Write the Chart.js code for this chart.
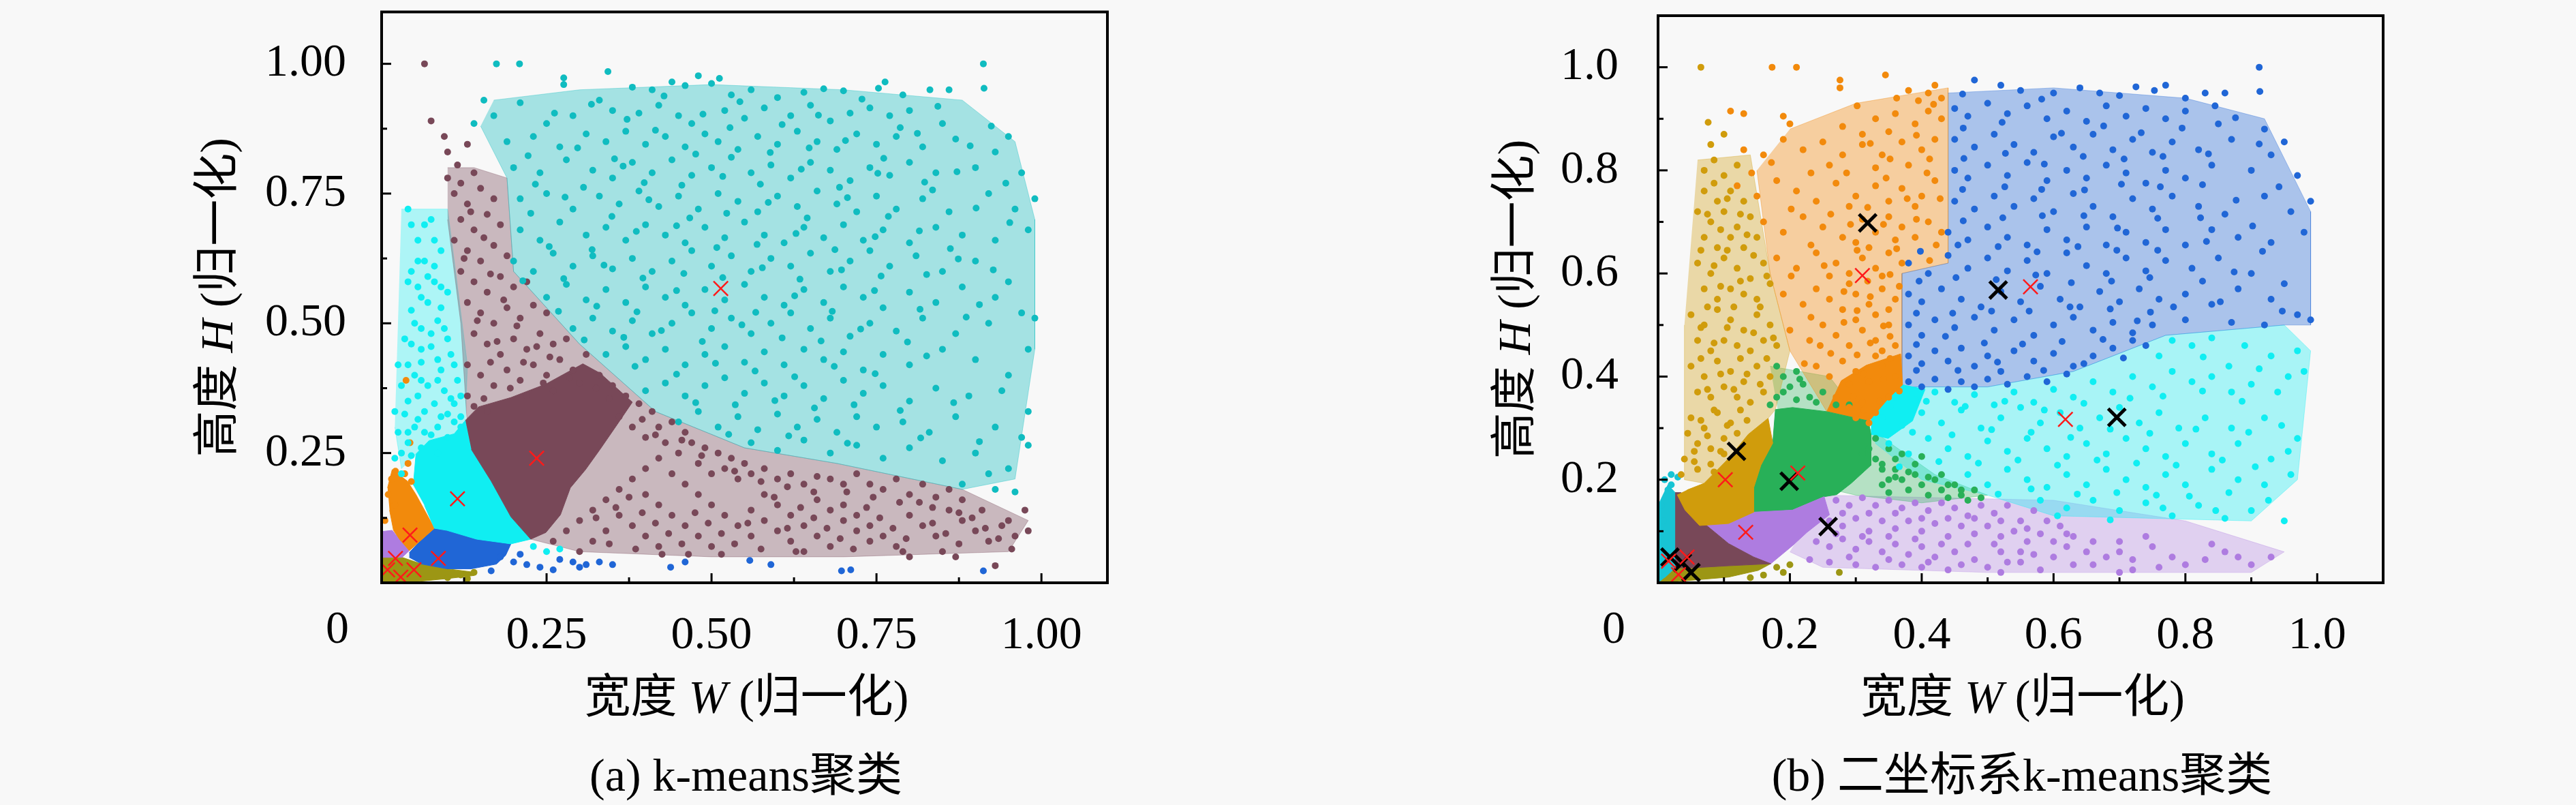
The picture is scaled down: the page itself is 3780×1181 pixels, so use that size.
<!DOCTYPE html>
<html>
<head>
<meta charset="utf-8">
<script src="https://cdn.jsdelivr.net/npm/chart.js@4.4.0/dist/chart.umd.min.js"></script>
<style>
  html, body { margin: 0; padding: 0; background: #f8f8f8; }
  #wrap { position: relative; width: 3780px; height: 1181px; overflow: hidden; }
  canvas { position: absolute; top: 0; }
</style>
</head>
<body>
<div id="wrap">
  <canvas id="chartA" width="1890" height="1181" style="left:0;width:1890px;height:1181px"></canvas>
  <canvas id="chartB" width="1890" height="1181" style="left:1890px;width:1890px;height:1181px"></canvas>
</div>
<script>
// ---------- ticks ----------
var ticksA = [0.125, 0.25, 0.375, 0.5, 0.625, 0.75, 0.875, 1.0];
var tickLabelsA = ['', '0.25', '', '0.50', '', '0.75', '', '1.00'];
var ticksB = [0.1, 0.2, 0.3, 0.4, 0.5, 0.6, 0.7, 0.8, 0.9, 1.0];
var tickLabelsB = ['', '0.2', '', '0.4', '', '0.6', '', '0.8', '', '1.0'];
var originLabel = '0';

// ---------- (a) k-means: scattered points ----------
var tealA = [[.174,1],[.209,1],[.343,.985],[.48,.977],[.512,.972],[.912,1],[.276,.973],[.276,.96],
  [.41,.95],[.44,.965],[.46,.958],[.50,.962],[.53,.94],[.56,.95],[.60,.935],[.64,.945],[.67,.952],[.70,.948],[.753,.953],[.763,.965],[.79,.94],[.831,.95],[.86,.95],[.913,.953],[.155,.93],[.21,.925],[.33,.93],[.38,.955],
  [.14,.885],[.17,.9],[.25,.885],[.29,.9],[.35,.91],[.39,.905],[.42,.92],[.45,.9],[.47,.885],[.52,.91],[.55,.895],[.58,.915],[.62,.9],[.65,.92],[.68,.89],[.71,.905],[.74,.915],[.77,.9],[.80,.91],[.85,.885],[.924,.88],[.95,.86],
  [.19,.85],[.23,.86],[.27,.84],[.31,.865],[.34,.85],[.37,.87],[.40,.845],[.43,.86],[.46,.84],[.49,.865],[.51,.85],[.54,.835],[.57,.86],[.60,.845],[.63,.87],[.66,.85],[.69,.835],[.72,.865],[.75,.845],[.78,.86],[.82,.84],[.87,.855],[.93,.83],
  [.20,.80],[.24,.79],[.28,.815],[.32,.795],[.35,.78],[.38,.81],[.41,.79],[.44,.815],[.47,.785],[.50,.80],[.53,.82],[.56,.79],[.59,.805],[.62,.78],[.65,.81],[.68,.795],[.71,.775],[.74,.80],[.77,.785],[.80,.81],[.84,.79],[.90,.80],[.97,.79],[.99,.74],
  [.21,.74],[.25,.75],[.29,.72],[.33,.745],[.36,.73],[.39,.755],[.42,.725],[.45,.745],[.48,.72],[.51,.75],[.54,.735],[.57,.715],[.60,.745],[.63,.725],[.66,.755],[.69,.73],[.72,.715],[.75,.745],[.78,.72],[.82,.74],[.86,.715],[.92,.75],[.96,.72],
  [.21,.68],[.24,.66],[.27,.695],[.31,.67],[.34,.685],[.37,.66],[.40,.69],[.43,.67],[.46,.655],[.49,.685],[.52,.665],[.55,.695],[.58,.67],[.61,.655],[.64,.685],[.67,.665],[.70,.69],[.73,.66],[.76,.68],[.80,.655],[.84,.685],[.88,.67],[.93,.66],[.98,.68],
  [.20,.62],[.23,.60],[.26,.635],[.29,.61],[.32,.63],[.35,.605],[.38,.625],[.41,.60],[.44,.62],[.47,.64],[.50,.61],[.53,.63],[.56,.60],[.59,.625],[.62,.61],[.65,.635],[.68,.60],[.71,.62],[.74,.64],[.77,.61],[.81,.63],[.85,.60],[.90,.62],[.95,.58],[.99,.51],
  [.25,.55],[.28,.575],[.31,.545],[.34,.565],[.37,.54],[.40,.57],[.43,.55],[.46,.535],[.49,.565],[.52,.545],[.55,.575],[.58,.55],[.61,.535],[.64,.565],[.67,.54],[.70,.57],[.73,.55],[.76,.53],[.80,.56],[.84,.54],[.88,.57],[.93,.55],[.97,.52],
  [.29,.49],[.32,.51],[.35,.485],[.38,.505],[.41,.48],[.44,.50],[.47,.52],[.50,.49],[.53,.51],[.56,.48],[.59,.50],[.62,.52],[.65,.49],[.68,.51],[.71,.475],[.74,.50],[.78,.485],[.82,.51],[.87,.48],[.92,.50],[.98,.45],
  [.34,.44],[.37,.455],[.40,.43],[.43,.45],[.46,.42],[.49,.44],[.52,.455],[.55,.425],[.58,.445],[.61,.42],[.64,.45],[.67,.43],[.70,.445],[.73,.41],[.76,.44],[.80,.42],[.85,.45],[.90,.43],[.95,.40],
  [.40,.37],[.43,.385],[.46,.36],[.49,.38],[.52,.395],[.55,.365],[.58,.385],[.61,.36],[.64,.38],[.67,.355],[.70,.39],[.73,.365],[.76,.38],[.80,.35],[.84,.375],[.89,.36],[.94,.37],[.98,.33],
  [.45,.31],[.48,.33],[.51,.30],[.54,.32],[.57,.295],[.60,.325],[.63,.30],[.66,.315],[.69,.29],[.72,.32],[.75,.30],[.79,.31],[.83,.29],[.87,.32],[.93,.30],[.97,.28],
  [.56,.27],[.60,.255],[.64,.275],[.68,.25],[.72,.265],[.76,.24],[.80,.26],[.85,.235],[.90,.25],[.95,.22],[.98,.265],[.92,.21],[.88,.19],[.93,.18],[.96,.175],
  [.262,.905],[.318,.922],[.372,.893],[.428,.938],[.487,.903],[.543,.927],[.607,.883],[.662,.901],[.728,.932],[.786,.877],[.843,.918],
  [.222,.823],[.297,.838],[.353,.817],[.415,.872],[.476,.826],[.528,.877],[.589,.829],[.648,.838],[.703,.852],[.761,.818],[.812,.866],[.892,.842],
  [.233,.768],[.306,.762],[.366,.803],[.398,.771],[.455,.766],[.517,.783],[.574,.768],[.636,.797],[.694,.762],[.752,.789],[.823,.772],[.872,.792],[.946,.77],
  [.226,.712],[.278,.743],[.349,.706],[.405,.738],[.467,.703],[.523,.712],[.586,.733],[.645,.703],[.706,.742],[.768,.706],[.835,.757],[.901,.722],
  [.254,.648],[.319,.642],[.386,.677],[.447,.688],[.508,.646],[.569,.652],[.628,.673],[.687,.642],[.748,.667],[.815,.678],[.862,.644],[.952,.694],
  [.214,.582],[.276,.586],[.337,.612],[.396,.587],[.458,.596],[.517,.588],[.577,.607],[.634,.585],[.697,.603],[.757,.591],[.826,.594],[.874,.624],[.927,.603],
  [.268,.523],[.326,.533],[.387,.522],[.447,.563],[.505,.524],[.567,.521],[.626,.553],[.683,.523],[.747,.563],[.816,.527],[.906,.536],
  [.307,.468],[.367,.473],[.424,.486],[.486,.465],[.546,.497],[.607,.472],[.666,.466],[.726,.489],[.797,.464],[.886,.512],
  [.384,.417],[.447,.402],[.506,.423],[.566,.408],[.626,.397],[.686,.417],[.748,.403],[.826,.437],
  [.476,.347],[.536,.343],[.596,.351],[.656,.337],[.716,.343],[.786,.332],[.867,.347],
  [.526,.286],[.617,.283],[.706,.269],[.817,.279],[.906,.272]];
var brownA = [[.065,1],[.075,.89],[.095,.86],[.10,.83],[.13,.845],[.10,.78],[.12,.77],[.14,.79],[.11,.75],[.13,.73],[.15,.76],[.17,.74],[.12,.70],[.14,.68],[.16,.71],[.18,.69],
  [.11,.66],[.13,.64],[.15,.62],[.17,.65],[.19,.63],[.12,.60],[.14,.58],[.16,.56],[.18,.59],[.20,.57],[.22,.58],[.13,.54],[.15,.52],[.17,.50],[.19,.53],[.21,.51],[.23,.535],[.25,.52],
  [.14,.48],[.16,.46],[.18,.44],[.20,.47],[.22,.45],[.24,.48],[.26,.46],[.28,.47],[.13,.42],[.15,.40],[.17,.38],[.19,.41],[.21,.39],[.23,.42],[.25,.40],[.27,.43],[.29,.41],[.31,.44],
  [.13,.36],[.14,.34],[.16,.33],[.22,.36],[.26,.37],[.30,.385],[.33,.40],[.35,.38],[.37,.36],[.39,.345],[.41,.33],[.36,.32],[.38,.30],[.40,.28],[.42,.30],[.44,.31],[.46,.29],
  [.43,.27],[.45,.25],[.47,.27],[.49,.26],[.51,.25],[.53,.24],[.55,.23],[.48,.23],[.50,.21],[.52,.22],[.54,.20],[.56,.21],[.58,.22],[.60,.20],[.62,.21],[.64,.19],[.66,.205],[.68,.20],
  [.70,.19],[.72,.21],[.74,.19],[.76,.18],[.78,.20],[.80,.17],[.82,.19],[.84,.165],[.86,.18],[.42,.24],[.40,.22],[.38,.20],[.36,.18],[.34,.16],[.32,.14],[.30,.12],[.28,.10],[.26,.08],
  [.44,.21],[.46,.19],[.48,.17],[.50,.15],[.52,.13],[.54,.11],[.56,.09],[.40,.17],[.42,.15],[.44,.13],[.46,.11],[.48,.09],[.50,.07],[.36,.13],[.38,.11],[.40,.09],[.42,.07],[.34,.10],[.32,.08],[.30,.06],
  [.58,.17],[.60,.15],[.62,.13],[.64,.11],[.66,.09],[.68,.07],[.56,.14],[.58,.12],[.60,.10],[.62,.08],[.64,.06],[.70,.15],[.72,.13],[.74,.11],[.76,.09],[.78,.07],[.66,.16],[.68,.14],[.70,.12],[.72,.10],[.74,.08],
  [.80,.13],[.82,.11],[.84,.09],[.86,.14],[.88,.12],[.90,.10],[.92,.08],[.94,.11],[.96,.09],[.98,.10],[.91,.14],[.95,.12],[.88,.16],[.85,.06],[.80,.05],[.87,.05],[.93,.033],[.975,.14],[.79,.06],[.628,.06],
  [.115,.805],[.135,.715],[.155,.665],[.125,.625],[.165,.595],[.185,.545],[.145,.505],[.205,.495],[.175,.465],[.235,.455],[.165,.425],[.215,.425],[.255,.435],[.195,.375],[.245,.385],[.285,.395],[.155,.355],
  [.325,.375],[.345,.355],[.395,.315],[.415,.285],[.455,.275],[.485,.245],[.535,.215],[.575,.195],[.615,.185],[.655,.175],[.705,.175],[.745,.165],[.785,.155],[.835,.145],[.875,.135],
  [.325,.125],[.355,.145],[.375,.165],[.395,.135],[.415,.115],[.435,.095],[.455,.075],[.475,.135],[.495,.115],[.515,.095],[.535,.075],[.555,.115],[.575,.065],[.595,.165],[.615,.105],[.635,.145],
  [.655,.125],[.675,.105],[.695,.085],[.715,.065],[.735,.145],[.755,.125],[.775,.105],[.795,.085],[.815,.155],[.835,.115],[.855,.095],[.875,.075],[.895,.125],[.915,.105],[.935,.085],[.955,.065],
  [.345,.075],[.385,.065],[.425,.055],[.465,.055],[.515,.055]];
var cyanA = [[.04,.72],[.065,.69],[.075,.70],[.07,.59],[.08,.58],[.06,.55],[.09,.53],[.05,.50],[.075,.48],[.10,.47],[.06,.45],[.085,.43],[.11,.42],[.05,.40],[.07,.38],[.095,.37],[.12,.36],
  [.04,.35],[.065,.33],[.09,.32],[.11,.31],[.05,.30],[.075,.285],[.10,.28],[.04,.27],[.06,.26],[.085,.25],[.12,.30],[.11,.345],[.055,.62],[.09,.64],[.10,.56],[.04,.58],[.035,.47],
  [.025,.42],[.03,.38],[.02,.33],[.025,.29],[.02,.24],[.03,.21],[.23,.07],[.25,.06],[.27,.065],
  [.045,.69],[.055,.66],[.08,.66],[.065,.62],[.045,.6],[.08,.61],[.055,.57],[.09,.57],[.07,.54],[.045,.525],[.085,.505],[.06,.49],[.095,.49],[.045,.46],[.075,.455],[.105,.44],[.06,.425],
  [.09,.41],[.115,.39],[.04,.42],[.06,.39],[.085,.39],[.105,.355],[.055,.36],[.08,.345],[.035,.325],[.1,.325],[.055,.315],[.12,.32],[.085,.3],[.04,.29],[.065,.29],[.03,.25],[.045,.245]];
var orangeA = [[.037,.39],[.043,.27],[.04,.23],[.021,.215],[.015,.20],[.035,.21],[.01,.17],[.02,.15],[.005,.12],[.045,.195]];
var blueA = [[.166,.023],[.20,.04],[.22,.035],[.24,.03],[.26,.025],[.27,.045],[.29,.04],[.30,.03],[.31,.035],[.33,.04],[.35,.035],[.438,.03],[.46,.04],[.558,.043],[.59,.035],[.697,.023],[.711,.025],[.912,.023],[.21,.055],[.18,.05]];
var oliveA = [[.10,.01],[.12,.015],[.14,.02],[.13,.008]];
var centersA = [[.514,.567],[.235,.240],[.115,.162],[.043,.092],[.086,.047],[.021,.047],[.009,.025],[.029,.011],[.049,.025]];

// ---------- (a) dense cores and lighter stipple outlines ----------
var brownCoreA = [[.127,.313],[.147,.339],[.196,.357],[.249,.383],[.305,.422],[.331,.404],[.380,.348],[.357,.305],[.331,.257],[.309,.218],[.286,.183],[.271,.131],[.249,.097],[.226,.084],[.196,.127],[.166,.196],[.136,.257]];
var cyanCoreA = [[.048,.188],[.052,.248],[.072,.274],[.110,.287],[.127,.313],[.136,.257],[.166,.196],[.196,.127],[.226,.084],[.196,.075],[.144,.084],[.099,.101],[.080,.105],[.065,.149]];
var orangeCoreA = [[.009,.183],[.016,.218],[.039,.196],[.052,.170],[.065,.140],[.080,.105],[.057,.079],[.042,.062],[.027,.084],[.018,.101],[.012,.140]];
var purpleCoreA = [[.001,.099],[.016,.101],[.027,.084],[.042,.062],[.031,.049],[.001,.049]];
var blueCoreA = [[.042,.058],[.057,.079],[.080,.105],[.099,.101],[.144,.084],[.196,.075],[.188,.053],[.174,.036],[.136,.027],[.099,.027],[.061,.036],[.042,.049]];
var oliveCoreA = [[0,.049],[.031,.049],[.061,.036],[.099,.027],[.136,.021],[.140,.014],[.099,.008],[.042,.001],[0,0]];
var goldCoreA = [[0,0],[.025,0],[.025,.025],[0,.03]];
var tealHazeA = [[.17,.93],[.3,.95],[.5,.96],[.7,.95],[.88,.93],[.96,.85],[.99,.7],[.99,.45],[.96,.2],[.88,.18],[.69,.23],[.55,.26],[.415,.33],[.3,.46],[.2,.6],[.19,.78],[.15,.88]];
var brownHazeA = [[.10,.80],[.14,.80],[.19,.78],[.2,.6],[.3,.46],[.415,.33],[.55,.26],[.69,.23],[.88,.18],[.98,.12],[.95,.06],[.7,.05],[.5,.05],[.3,.06],[.226,.084],[.13,.3],[.12,.5],[.1,.7]];
var cyanHazeA = [[.03,.72],[.1,.72],[.13,.42],[.127,.313],[.11,.287],[.072,.274],[.052,.248],[.03,.22],[.02,.3]];

// ---------- (b) two-coordinate k-means: scattered points ----------
var blueB = [[.48,.975],[.52,.965],[.55,.955],[.6,.95],[.64,.96],[.67,.95],[.70,.945],[.753,.955],[.77,.965],[.80,.94],[.83,.95],[.86,.95],[.912,1],[.913,.953],
  [.45,.92],[.47,.905],[.50,.93],[.53,.91],[.56,.925],[.59,.90],[.62,.915],[.65,.895],[.68,.925],[.71,.905],[.74,.92],[.77,.90],[.80,.915],[.85,.89],[.92,.88],
  [.45,.86],[.48,.845],[.51,.87],[.54,.85],[.57,.835],[.60,.865],[.63,.845],[.66,.87],[.69,.84],[.72,.86],[.75,.835],[.78,.855],[.82,.84],[.87,.86],[.93,.83],[.95,.855],
  [.45,.80],[.47,.785],[.50,.81],[.53,.79],[.56,.815],[.59,.78],[.62,.80],[.65,.785],[.68,.81],[.71,.795],[.74,.775],[.77,.80],[.80,.785],[.84,.81],[.90,.80],[.97,.79],
  [.45,.74],[.48,.725],[.51,.75],[.54,.73],[.57,.745],[.60,.72],[.63,.755],[.66,.73],[.69,.71],[.72,.745],[.75,.725],[.78,.75],[.82,.73],[.86,.715],[.92,.75],[.96,.72],[.99,.74],
  [.44,.68],[.47,.665],[.50,.69],[.53,.67],[.56,.655],[.59,.685],[.62,.665],[.65,.69],[.68,.655],[.71,.68],[.74,.66],[.77,.685],[.80,.655],[.84,.685],[.88,.67],[.93,.66],[.98,.68],
  [.38,.62],[.41,.60],[.44,.635],[.47,.61],[.50,.63],[.53,.605],[.56,.625],[.59,.60],[.62,.64],[.65,.615],[.68,.60],[.71,.63],[.74,.605],[.77,.625],[.81,.61],[.85,.63],[.90,.60],[.95,.58],
  [.38,.56],[.40,.545],[.43,.57],[.46,.55],[.49,.535],[.52,.565],[.55,.545],[.58,.575],[.61,.55],[.64,.535],[.67,.565],[.70,.545],[.73,.57],[.76,.55],[.80,.56],[.84,.54],[.88,.57],[.93,.55],[.97,.52],[.99,.51],
  [.38,.50],[.40,.48],[.42,.51],[.45,.495],[.48,.515],[.51,.49],[.54,.51],[.57,.48],[.60,.50],[.63,.515],[.66,.49],[.69,.505],[.72,.485],[.75,.50],[.80,.51],[.87,.505],[.92,.50],
  [.38,.44],[.40,.425],[.42,.45],[.44,.43],[.46,.455],[.48,.42],[.50,.44],[.52,.41],[.54,.45],[.57,.43],[.60,.445],[.63,.42],[.66,.44],[.69,.455],[.72,.47],[.74,.46],
  [.38,.39],[.40,.38],[.42,.395],[.44,.375],[.46,.39],[.48,.38],[.50,.395],[.53,.385],[.56,.40],[.59,.39],[.62,.405],
  [.462,.948],[.582,.938],[.725,.962],[.845,.925],[.463,.882],[.522,.893],[.612,.872],[.676,.886],[.733,.873],[.795,.882],[.876,.902],
  [.464,.823],[.527,.833],[.586,.812],[.645,.827],[.707,.822],[.766,.827],[.835,.832],[.912,.851],
  [.462,.763],[.526,.768],[.582,.763],[.647,.762],[.703,.773],[.762,.768],[.826,.772],[.877,.742],[.942,.768],
  [.463,.702],[.523,.708],[.583,.712],[.646,.712],[.697,.688],[.758,.707],[.823,.708],[.902,.692],
  [.398,.643],[.455,.655],[.516,.652],[.575,.642],[.637,.652],[.696,.645],[.758,.645],[.832,.662],[.917,.643],
  [.396,.585],[.452,.592],[.513,.588],[.573,.597],[.627,.582],[.688,.585],[.746,.592],[.826,.585],[.874,.603],
  [.392,.523],[.447,.523],[.506,.527],[.563,.527],[.625,.535],[.686,.531],[.747,.525],[.782,.535],[.853,.545],[.947,.527],
  [.392,.462],[.436,.478],[.495,.465],[.553,.463],[.613,.468],[.675,.472],[.727,.508],
  [.392,.412],[.455,.412],[.515,.428],[.585,.412],[.646,.425],[.706,.436]];
var cyanB = [[.78,.47],[.81,.46],[.84,.475],[.89,.46],[.93,.44],[.97,.45],[.98,.41],[.76,.44],
  [.36,.36],[.39,.355],[.42,.37],[.45,.35],[.48,.365],[.51,.345],[.54,.37],[.57,.35],[.60,.375],[.63,.36],[.66,.39],[.69,.37],[.72,.40],[.75,.38],[.78,.41],[.81,.39],[.84,.40],[.87,.37],[.90,.385],[.94,.37],
  [.34,.32],[.37,.305],[.40,.33],[.43,.31],[.46,.335],[.49,.30],[.52,.32],[.55,.34],[.58,.31],[.61,.33],[.64,.30],[.67,.32],[.70,.34],[.73,.31],[.76,.33],[.79,.30],[.83,.32],[.87,.30],[.92,.32],[.97,.28],
  [.35,.27],[.38,.25],[.41,.28],[.44,.26],[.47,.245],[.50,.275],[.53,.255],[.56,.28],[.59,.26],[.62,.245],[.65,.27],[.68,.25],[.71,.28],[.74,.26],[.77,.245],[.80,.27],[.84,.25],[.88,.27],[.93,.24],
  [.47,.21],[.50,.19],[.53,.22],[.56,.20],[.59,.185],[.62,.21],[.65,.19],[.68,.22],[.71,.20],[.74,.185],[.77,.21],[.80,.19],[.84,.22],[.88,.20],[.92,.19],[.96,.21],
  [.58,.16],[.62,.145],[.66,.16],[.70,.14],[.74,.155],[.78,.13],[.82,.15],[.86,.125],[.90,.14],[.95,.12],
  [.352,.342],[.407,.352],[.466,.342],[.526,.352],[.586,.335],[.646,.348],[.716,.358],[.766,.362],[.826,.372],[.886,.352],[.956,.4],[.827,.438],[.866,.42],[.912,.415],
  [.386,.292],[.446,.287],[.506,.297],[.566,.292],[.626,.282],[.686,.298],[.746,.29],[.816,.298],[.896,.292],[.946,.305],
  [.366,.225],[.426,.235],[.486,.232],[.546,.238],[.606,.228],[.666,.238],[.726,.232],[.786,.228],[.856,.238],[.906,.225],[.956,.255],
  [.516,.172],[.566,.182],[.636,.172],[.696,.175],[.756,.17],[.806,.168],[.866,.175],[.926,.16],[.606,.13],[.686,.122],[.766,.145],[.846,.14]];
var orangeB = [[.173,1],[.21,1],[.345,.985],[.276,.975],[.276,.96],[.38,.955],[.41,.95],[.42,.965],[.395,.935],[.43,.94],
  [.11,.915],[.13,.91],[.19,.905],[.20,.89],[.28,.885],[.33,.90],[.36,.91],[.39,.89],[.41,.915],[.43,.90],[.35,.875],[.31,.87],
  [.13,.84],[.16,.83],[.19,.86],[.22,.84],[.25,.855],[.28,.83],[.31,.85],[.34,.83],[.37,.855],[.40,.84],[.42,.86],[.38,.81],[.33,.805],[.26,.81],
  [.12,.77],[.15,.75],[.18,.78],[.21,.76],[.24,.74],[.27,.775],[.30,.75],[.33,.77],[.35,.74],[.37,.765],[.40,.75],[.42,.78],[.29,.73],[.39,.73],
  [.16,.70],[.19,.68],[.22,.71],[.25,.69],[.28,.67],[.31,.705],[.33,.68],[.35,.71],[.37,.69],[.39,.67],[.41,.70],[.43,.68],[.30,.66],[.36,.665],
  [.18,.63],[.21,.61],[.24,.64],[.27,.62],[.29,.60],[.31,.63],[.33,.61],[.35,.64],[.37,.62],[.34,.595],[.32,.65],[.26,.595],
  [.19,.56],[.22,.54],[.24,.57],[.26,.55],[.28,.53],[.30,.56],[.32,.54],[.34,.57],[.36,.55],[.29,.58],[.33,.52],[.35,.53],
  [.20,.49],[.23,.47],[.25,.50],[.27,.48],[.29,.46],[.31,.49],[.33,.47],[.35,.50],[.36,.46],[.30,.51],[.34,.45],
  [.24,.42],[.26,.40],[.28,.43],[.30,.41],[.32,.39],[.34,.42],[.36,.40],[.29,.385],[.33,.44],
  [.27,.36],[.29,.34],[.31,.35],[.33,.33],[.35,.36],[.30,.32],[.32,.31],
  [.302,.925],[.362,.94],[.418,.928],[.322,.852],[.392,.868],[.352,.822],[.412,.822],[.286,.795],[.346,.785],[.408,.795],[.318,.728],[.378,.745],[.428,.745],[.292,.695],[.342,.695],[.392,.705],[.422,.655],
  [.302,.645],[.362,.648],[.412,.625],[.282,.565],[.318,.585],[.352,.598],[.322,.555],[.366,.575],[.302,.528],[.342,.498],[.282,.505],[.322,.465],[.352,.478],[.302,.442],[.352,.435],[.312,.405],[.342,.395],
  [.296,.362],[.336,.352],[.366,.372],[.312,.335],[.142,.795],[.172,.815],[.232,.795],[.202,.725],[.262,.715],[.232,.655],[.202,.595],[.252,.615],[.232,.515],[.262,.445],[.222,.425],[.246,.46]];
var goldB = [[.065,1],[.076,.893],[.08,.85],[.10,.87],[.07,.80],[.085,.82],[.10,.79],[.12,.81],[.07,.76],[.09,.74],[.11,.76],[.13,.74],
  [.06,.72],[.08,.70],[.10,.72],[.12,.69],[.14,.71],[.07,.67],[.09,.65],[.11,.67],[.13,.65],[.15,.67],
  [.06,.62],[.08,.60],[.10,.63],[.12,.61],[.14,.59],[.16,.62],[.07,.57],[.09,.55],[.11,.57],[.13,.56],[.15,.55],[.17,.58],
  [.05,.52],[.07,.50],[.09,.53],[.11,.51],[.13,.49],[.15,.52],[.17,.50],[.06,.47],[.08,.45],[.10,.47],[.12,.46],[.14,.45],[.16,.47],[.18,.46],
  [.05,.42],[.07,.40],[.09,.43],[.11,.41],[.13,.39],[.15,.42],[.17,.40],[.06,.37],[.08,.36],[.10,.38],[.12,.36],[.14,.35],[.16,.37],
  [.05,.32],[.07,.30],[.09,.33],[.11,.31],[.06,.27],[.08,.26],[.10,.28],[.04,.24],[.06,.22],[.08,.23],[.035,.21],[.10,.25],[.12,.29],[.045,.29],
  [.085,.775],[.105,.745],[.075,.715],[.125,.715],[.095,.685],[.135,.675],[.065,.645],[.105,.645],[.145,.635],[.085,.615],[.125,.585],[.165,.595],[.095,.575],
  [.075,.535],[.115,.535],[.155,.535],[.065,.495],[.105,.495],[.145,.485],[.175,.475],[.085,.465],[.125,.435],[.165,.435],[.065,.435],[.095,.405],[.135,.405],
  [.075,.375],[.115,.375],[.155,.385],[.085,.335],[.125,.335],[.065,.315],[.105,.305],[.135,.315],[.075,.285],[.055,.255],[.095,.255],[.085,.215],[.055,.235]];
var greenB = [[.18,.42],[.19,.40],[.21,.41],[.20,.38],[.22,.385],[.18,.36],[.23,.36],[.25,.37],[.17,.345],[.32,.26],[.33,.24],[.34,.22],[.35,.20],[.36,.22],[.37,.20],[.38,.18],
  [.39,.21],[.40,.19],[.41,.17],[.42,.20],[.43,.18],[.44,.165],[.45,.19],[.46,.17],[.47,.16],[.48,.18],[.49,.165],[.36,.24],[.34,.19],[.31,.25],[.35,.175],
  [.21,.355],[.24,.35],[.27,.345],[.29,.345],[.33,.28],[.35,.26],[.37,.25],[.39,.23],[.40,.245],[.38,.215],[.41,.205],[.43,.21],[.44,.19],[.46,.18],[.36,.205],[.34,.23],[.19,.37],[.215,.395]];
var purpleB = [[.27,.16],[.29,.15],[.31,.165],[.33,.15],[.35,.16],[.37,.145],[.39,.155],[.41,.14],[.43,.155],[.45,.145],[.47,.13],[.49,.15],[.51,.135],[.53,.15],[.55,.12],[.57,.14],
  [.26,.12],[.28,.11],[.30,.125],[.32,.10],[.34,.12],[.36,.105],[.38,.12],[.40,.10],[.42,.115],[.44,.09],[.46,.11],[.48,.095],[.50,.11],[.52,.09],[.54,.10],[.56,.08],[.58,.095],[.60,.08],
  [.24,.08],[.26,.07],[.28,.085],[.30,.065],[.32,.08],[.34,.06],[.36,.075],[.38,.055],[.40,.07],[.42,.05],[.45,.06],[.48,.045],[.52,.06],[.55,.04],[.60,.05],[.62,.07],[.65,.06],[.68,.05],
  [.23,.045],[.26,.04],[.30,.035],[.33,.03],[.37,.035],[.40,.03],[.44,.025],[.50,.03],[.58,.025],[.63,.035],[.70,.06],[.72,.045],[.75,.07],[.78,.05],[.80,.035],[.83,.045],[.86,.06],[.90,.035],[.93,.05],
  [.70,.02],[.72,.025],[.52,.02],[.61,.11],[.63,.09],[.59,.12],
  [.28,.135],[.32,.135],[.36,.135],[.40,.125],[.44,.125],[.48,.125],[.52,.12],[.56,.105],[.62,.095],[.66,.08],[.70,.08],[.74,.09],[.27,.095],[.31,.09],[.35,.09],[.39,.085],
  [.43,.075],[.47,.075],[.51,.075],[.55,.06],[.29,.05],[.35,.045],[.41,.04],[.46,.035],[.53,.04],[.57,.055],[.66,.035],[.76,.03],[.88,.05],[.84,.075]];
var tealB = [[.01,.20],[.02,.21],[.015,.18],[.005,.15],[.008,.12],[.003,.09],[.01,.06],[.005,.04],[.002,.01],[.02,.19],[.03,.205]];
var oliveB = [[.18,.03],[.19,.02],[.20,.035],[.14,.01],[.16,.015],[.275,.02]];
var centersRedB = [[.565,.574],[.310,.596],[.102,.200],[.212,.213],[.133,.098],[.618,.317],[.016,.042],[.044,.050],[.031,.016]];
var centersBlackB = [[.516,.568],[.318,.698],[.119,.255],[.199,.197],[.258,.109],[.696,.321],[.018,.050],[.037,.039],[.050,.020]];

// ---------- (b) dense cores and lighter stipple outlines ----------
var goldCoreB = [[.044,.180],[.070,.193],[.107,.241],[.137,.288],[.167,.319],[.174,.271],[.156,.228],[.145,.184],[.145,.137],[.107,.115],[.063,.111],[.041,.141],[.029,.171]];
var brownCoreB = [[.026,.175],[.035,.175],[.048,.150],[.070,.115],[.107,.076],[.145,.050],[.171,.037],[.107,.033],[.052,.029],[.026,.029]];
var purpleCoreB = [[.063,.111],[.107,.115],[.145,.137],[.204,.141],[.252,.167],[.260,.132],[.226,.098],[.204,.072],[.171,.037],[.145,.050],[.107,.076],[.070,.115]];
var greenCoreB = [[.145,.184],[.156,.228],[.174,.271],[.178,.336],[.204,.340],[.256,.332],[.319,.314],[.323,.288],[.323,.228],[.293,.193],[.271,.171],[.252,.167],[.204,.141],[.145,.137]];
var orangeCoreB = [[.256,.332],[.278,.392],[.316,.422],[.368,.444],[.371,.384],[.349,.357],[.323,.318],[.319,.314]];
var cyanCoreB = [[.323,.318],[.349,.357],[.371,.384],[.405,.375],[.386,.314],[.349,.280],[.323,.288]];
var tealCoreB = [[0,0],[0,.15],[.015,.19],[.026,.175],[.026,.029],[.01,.01]];
var oliveCoreB = [[0,0],[0,.02],[.026,.029],[.107,.033],[.171,.037],[.152,.024],[.107,.011],[.033,.003]];
var blueHazeB = [[.44,.95],[.6,.96],[.8,.94],[.92,.9],[.99,.72],[.99,.5],[.95,.5],[.77,.48],[.63,.41],[.5,.38],[.37,.38],[.37,.6],[.44,.62]];
var cyanHazeB = [[.37,.38],[.5,.38],[.63,.41],[.77,.48],[.95,.5],[.99,.45],[.97,.2],[.9,.12],[.6,.13],[.5,.17],[.4,.2],[.33,.27],[.323,.318],[.37,.36]];
var orangeHazeB = [[.2,.88],[.3,.93],[.44,.96],[.44,.62],[.37,.6],[.37,.38],[.323,.318],[.256,.332],[.2,.45],[.17,.6],[.15,.8]];
var goldHazeB = [[.06,.82],[.14,.83],[.17,.6],[.2,.45],[.178,.336],[.167,.319],[.137,.288],[.107,.241],[.07,.193],[.04,.2],[.04,.5]];
var greenHazeB = [[.17,.42],[.26,.40],[.32,.30],[.42,.21],[.5,.17],[.40,.155],[.30,.17],[.2,.2]];
var purpleHazeB = [[.25,.17],[.6,.16],[.8,.12],[.95,.06],[.9,.02],[.5,.02],[.25,.03],[.2,.06]];

// ---------- helpers ----------
var serif = "'Liberation Serif', 'Noto Sans CJK SC', serif";
var mainFont = '68px ' + serif;
var italicFont = 'italic 68px ' + serif;

function pts(arr) {
  return arr.map(function (p) { return { x: p[0], y: p[1] }; });
}
function cloud(arr, color) {
  return { data: pts(arr), backgroundColor: color, borderWidth: 0, pointRadius: 5, order: 2 };
}
function area(arr, color, order) {
  return { data: pts(arr), showLine: true, fill: 'shape', backgroundColor: color, borderColor: color,
    borderWidth: 1, pointRadius: 0, tension: 0, order: order };
}
function centers(arr, color, r, w, order) {
  return { data: pts(arr), pointStyle: 'crossRot', pointRadius: r, borderColor: color,
    backgroundColor: color, borderWidth: w, order: order };
}

function drawRuns(ctx, runs, cx, cy) {
  var total = 0;
  runs.forEach(function (r) { ctx.font = r.font; r.w = ctx.measureText(r.text).width; total += r.w; });
  var x = cx - total / 2;
  ctx.textAlign = 'left';
  ctx.textBaseline = 'middle';
  runs.forEach(function (r) { ctx.font = r.font; ctx.fillText(r.text, x, cy); x += r.w; });
}

var framePlugin = {
  id: 'frame',
  afterDraw: function (chart, args, o) {
    var ctx = chart.ctx, a = chart.chartArea, sx = chart.scales.x, sy = chart.scales.y;
    ctx.save();
    ctx.strokeStyle = '#000';
    ctx.lineWidth = 3;
    o.ticks.forEach(function (v, i) {
      var len = o.labels[i] ? 14 : 8;
      var px = sx.getPixelForValue(v);
      ctx.beginPath(); ctx.moveTo(px, a.bottom); ctx.lineTo(px, a.bottom - len); ctx.stroke();
      var py = sy.getPixelForValue(v);
      ctx.beginPath(); ctx.moveTo(a.left, py); ctx.lineTo(a.left + len, py); ctx.stroke();
    });
    ctx.lineWidth = 4;
    ctx.strokeRect(a.left, a.top, a.right - a.left, a.bottom - a.top);

    ctx.fillStyle = '#000';
    ctx.font = mainFont;
    ctx.textAlign = 'center';
    ctx.textBaseline = 'middle';
    ctx.fillText(originLabel, sx.getPixelForValue(0) - 65, a.bottom + 70);

    var cx = (a.left + a.right) / 2;
    drawRuns(ctx, [{ text: '宽度 ', font: mainFont }, { text: 'W', font: italicFont }, { text: ' (归一化)', font: mainFont }], cx + 3, 1027);
    drawRuns(ctx, [{ text: o.caption, font: mainFont }], cx + 2, 1142);

    ctx.translate(o.yTitleX, (a.top + a.bottom) / 2);
    ctx.rotate(-Math.PI / 2);
    drawRuns(ctx, [{ text: '高度 ', font: mainFont }, { text: 'H', font: italicFont }, { text: ' (归一化)', font: mainFont }], 0, 0);
    ctx.restore();
  }
};

function makeChart(id, datasets, ticks, labels, yWidth, rightPad, yPad, caption, yTitleX) {
  function axis(isY) {
    return {
      type: 'linear', min: 0, max: 1.1,
      grid: { display: false }, border: { display: false },
      afterBuildTicks: function (s) { s.ticks = ticks.map(function (v) { return { value: v }; }); },
      afterFit: function (s) {
        if (isY) { s.width = yWidth; } else { s.height = 326; }
        s.paddingTop = 0; s.paddingBottom = 0; s.paddingLeft = 0; s.paddingRight = 0;
      },
      ticks: {
        autoSkip: false, maxRotation: 0, color: '#000', padding: isY ? yPad : 29,
        font: { family: serif, size: 68 },
        callback: function (v, i) { return labels[i]; }
      }
    };
  }
  return new Chart(document.getElementById(id), {
    type: 'scatter',
    data: { datasets: datasets },
    options: {
      responsive: false, animation: false, devicePixelRatio: 1, events: [],
      layout: { padding: { top: 7, right: rightPad, left: 0, bottom: 0 } },
      scales: { x: axis(false), y: axis(true) },
      plugins: {
        legend: { display: false }, tooltip: { enabled: false },
        frame: { ticks: ticks, labels: labels, caption: caption, yTitleX: yTitleX }
      }
    },
    plugins: [framePlugin]
  });
}

var TEAL = '#10bcc0', BROWN = '#784858', CYAN = '#10eef2', ORANGE = '#f28a0c', BLUE = '#2066d6',
    PURPLE = '#ae7ce0', OLIVE = '#9c9614', GOLD = '#d09c0c', GREEN = '#28b058';

makeChart('chartA', [
  centers(centersA, '#ff1a1a', 15, 2.5, 0),
  cloud(tealA, TEAL), cloud(brownA, BROWN), cloud(cyanA, CYAN), cloud(orangeA, ORANGE),
  cloud(blueA, BLUE), cloud(oliveA, OLIVE),
  area(brownCoreA, BROWN, 3), area(cyanCoreA, CYAN, 3), area(orangeCoreA, ORANGE, 3),
  area(purpleCoreA, PURPLE, 3), area(blueCoreA, BLUE, 3), area(oliveCoreA, OLIVE, 3), area(goldCoreA, '#c89a10', 3),
  area(tealHazeA, 'rgba(16,188,192,0.36)', 4), area(brownHazeA, 'rgba(120,72,88,0.36)', 4), area(cyanHazeA, 'rgba(16,238,242,0.32)', 4)
], ticksA, tickLabelsA, 560, 265, 44, '(a) k-means聚类', 323);

makeChart('chartB', [
  centers(centersRedB, '#ff1a1a', 15, 2.5, 0),
  centers(centersBlackB, '#000000', 18, 5, 1),
  cloud(blueB, BLUE), cloud(cyanB, CYAN), cloud(orangeB, ORANGE), cloud(goldB, GOLD),
  cloud(greenB, GREEN), cloud(purpleB, PURPLE), cloud(tealB, '#18c4d4'), cloud(oliveB, OLIVE),
  area(goldCoreB, GOLD, 3), area(brownCoreB, BROWN, 3), area(purpleCoreB, PURPLE, 3), area(greenCoreB, GREEN, 3),
  area(orangeCoreB, ORANGE, 3), area(cyanCoreB, CYAN, 3), area(tealCoreB, '#18c4d4', 3), area(oliveCoreB, OLIVE, 3),
  area(blueHazeB, 'rgba(32,102,214,0.36)', 4), area(cyanHazeB, 'rgba(16,238,242,0.34)', 4), area(orangeHazeB, 'rgba(242,138,12,0.38)', 4),
  area(goldHazeB, 'rgba(208,156,12,0.34)', 4), area(greenHazeB, 'rgba(40,176,88,0.32)', 4), area(purpleHazeB, 'rgba(174,124,224,0.32)', 4)
], ticksB, tickLabelsB, 543, 283, 50, '(b) 二坐标系k-means聚类', 337);
</script>
</body>
</html>
